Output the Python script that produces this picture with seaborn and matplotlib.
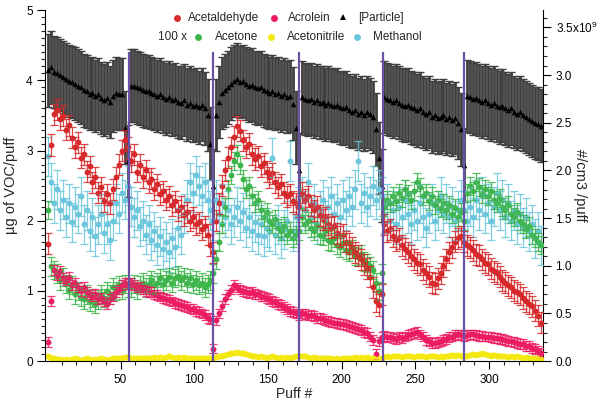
# Puff-by-puff VOC and particle chart
import numpy as np
import pandas as pd
import seaborn as sns
import matplotlib.pyplot as plt
from matplotlib.lines import Line2D

# Datos (cada 2 puffs)
puffs = np.arange(1, 336, 2)
cambios = [56, 113, 171, 228, 283]  # cambios de cigarrillo (lineas moradas)

acetaldehyde = [
    1.67, 3.08, 3.52, 3.58, 3.45, 3.50, 3.30, 3.36, 3.18, 3.05, 3.12, 2.90, 2.95, 2.70,
    2.78, 2.55, 2.62, 2.40, 2.48, 2.28, 2.38, 2.25, 2.45, 2.62, 2.80, 3.00, 3.15, 3.05,
    2.85, 2.95, 2.70, 2.80, 2.62, 2.72, 2.55, 2.60, 2.45, 2.52, 2.38, 2.42, 2.30, 2.35, 2.22,
    2.28, 2.15, 2.20, 2.08, 2.12, 2.00, 2.05, 1.95, 1.98, 1.88, 1.92, 1.80, 1.65, 1.55,
    2.00, 2.25, 2.50, 2.72, 2.90, 3.05, 3.20, 3.35, 3.28, 3.15, 3.05, 3.10, 2.95, 2.88, 2.92,
    2.78, 2.82, 2.70, 2.62, 2.68, 2.55, 2.48, 2.52, 2.40, 2.35, 2.38, 2.28, 2.25, 2.20,
    2.40, 2.30, 2.35, 2.22, 2.15, 2.20, 2.08, 2.02, 2.05, 1.95, 1.90, 1.92, 1.82, 1.78,
    1.80, 1.70, 1.68, 1.62, 1.55, 1.50, 1.45, 1.38, 1.32, 1.20, 1.05, 0.85, 0.80, 0.95,
    1.95, 1.85, 1.88, 1.78, 1.72, 1.75, 1.65, 1.60, 1.55, 1.50, 1.45, 1.40, 1.38, 1.30,
    1.25, 1.20, 1.12, 1.10, 1.18, 1.25, 1.35, 1.45, 1.55, 1.62, 1.70, 1.75, 1.78, 1.70,
    1.65, 1.62, 1.58, 1.52, 1.50, 1.45, 1.40, 1.38, 1.32, 1.28, 1.25, 1.20, 1.15,
    1.12, 1.08, 1.05, 1.00, 0.98, 0.95, 0.90, 0.85, 0.82, 0.78, 0.72, 0.65, 0.55]

acrolein = [
    0.27, 0.86, 1.30, 1.22, 1.28, 1.18, 1.15, 1.20, 1.08, 1.12, 1.05, 1.00, 1.06, 0.98,
    0.95, 0.92, 0.96, 0.88, 0.90, 0.85, 0.82, 0.88, 0.92, 0.98, 1.02, 1.08, 1.12, 1.10,
    1.12, 1.08, 1.05, 1.06, 1.02, 1.00, 0.98, 0.99, 0.95, 0.94, 0.92, 0.90, 0.88, 0.87, 0.85,
    0.83, 0.82, 0.80, 0.78, 0.77, 0.75, 0.74, 0.72, 0.70, 0.68, 0.66, 0.62, 0.60, 0.18,
    0.58, 0.68, 0.78, 0.88, 0.95, 1.02, 1.08, 1.05, 1.02, 1.00, 0.99, 0.97, 0.98, 0.96, 0.95,
    0.93, 0.92, 0.90, 0.88, 0.86, 0.84, 0.82, 0.80, 0.77, 0.74, 0.72, 0.70, 0.68, 0.66,
    0.68, 0.67, 0.65, 0.66, 0.64, 0.62, 0.61, 0.60, 0.58, 0.57, 0.56, 0.55, 0.54, 0.53,
    0.53, 0.52, 0.50, 0.49, 0.47, 0.46, 0.44, 0.42, 0.40, 0.35, 0.30, 0.10, 0.28, 0.34,
    0.36, 0.34, 0.35, 0.33, 0.32, 0.34, 0.33, 0.35, 0.37, 0.39, 0.40, 0.41, 0.38, 0.35,
    0.30, 0.28, 0.26, 0.26, 0.27, 0.28, 0.30, 0.32, 0.34, 0.35, 0.37, 0.38, 0.37, 0.36,
    0.37, 0.38, 0.38, 0.37, 0.36, 0.36, 0.35, 0.35, 0.34, 0.33, 0.33, 0.32, 0.31,
    0.30, 0.29, 0.28, 0.27, 0.26, 0.25, 0.24, 0.22, 0.21, 0.19, 0.17, 0.15, 0.12]

acetone = [
    2.15, 1.35, 1.30, 1.25, 1.15, 1.20, 1.10, 1.02, 1.08, 0.95, 1.00, 0.92, 0.88, 0.95,
    0.85, 0.90, 0.82, 0.88, 0.95, 0.90, 1.00, 0.95, 1.05, 1.00, 1.08, 1.02, 1.10, 1.05,
    1.05, 1.10, 1.02, 1.08, 1.12, 1.05, 1.10, 1.15, 1.08, 1.12, 1.18, 1.10, 1.15, 1.20, 1.12,
    1.18, 1.22, 1.15, 1.20, 1.12, 1.18, 1.10, 1.15, 1.08, 1.12, 1.05, 1.10, 1.15, 1.25,
    1.45, 1.70, 1.95, 2.20, 2.45, 2.65, 2.85, 2.95, 2.80, 2.60, 2.45, 2.50, 2.35, 2.25, 2.30,
    2.15, 2.05, 2.12, 2.00, 1.95, 2.02, 1.90, 1.85, 1.92, 1.80, 1.85, 1.75, 1.80, 1.85,
    2.05, 1.95, 2.00, 1.90, 1.85, 1.92, 1.80, 1.78, 1.85, 1.72, 1.70, 1.75, 1.65, 1.62,
    1.68, 1.58, 1.55, 1.60, 1.50, 1.48, 1.52, 1.42, 1.40, 1.35, 1.30, 1.12, 1.00, 1.25,
    2.20, 2.30, 2.25, 2.35, 2.28, 2.40, 2.32, 2.45, 2.38, 2.30, 2.42, 2.55, 2.48, 2.35,
    2.40, 2.28, 2.35, 2.22, 2.30, 2.18, 2.25, 2.15, 2.22, 2.10, 2.18, 2.05, 2.12, 2.00,
    2.40, 2.50, 2.42, 2.55, 2.48, 2.38, 2.45, 2.35, 2.42, 2.30, 2.25, 2.32, 2.20,
    2.15, 2.22, 2.10, 2.05, 2.12, 2.00, 1.95, 1.88, 1.92, 1.80, 1.75, 1.70, 1.65]

acetonitrile = [
    0.07, 0.05, 0.04, 0.03, 0.03, 0.02, 0.03, 0.02, 0.03, 0.04, 0.03, 0.02, 0.03, 0.04,
    0.03, 0.02, 0.03, 0.03, 0.04, 0.03, 0.02, 0.03, 0.04, 0.04, 0.05, 0.05, 0.06, 0.06,
    0.05, 0.04, 0.05, 0.04, 0.05, 0.05, 0.04, 0.05, 0.06, 0.05, 0.06, 0.05, 0.06, 0.07, 0.06,
    0.05, 0.06, 0.05, 0.06, 0.05, 0.04, 0.05, 0.04, 0.05, 0.04, 0.05, 0.04, 0.04, 0.05,
    0.06, 0.07, 0.08, 0.09, 0.10, 0.11, 0.12, 0.13, 0.12, 0.11, 0.10, 0.09, 0.08, 0.07, 0.06,
    0.07, 0.06, 0.05, 0.06, 0.07, 0.06, 0.05, 0.06, 0.05, 0.06, 0.05, 0.06, 0.07, 0.08,
    0.08, 0.07, 0.06, 0.05, 0.06, 0.05, 0.04, 0.05, 0.04, 0.05, 0.04, 0.03, 0.04, 0.03,
    0.04, 0.05, 0.04, 0.05, 0.06, 0.05, 0.06, 0.05, 0.06, 0.05, 0.04, 0.03, 0.03, 0.05,
    0.06, 0.07, 0.06, 0.07, 0.08, 0.07, 0.06, 0.07, 0.08, 0.07, 0.06, 0.07, 0.08, 0.07,
    0.06, 0.07, 0.08, 0.07, 0.06, 0.07, 0.06, 0.07, 0.08, 0.09, 0.08, 0.09, 0.08, 0.07,
    0.08, 0.09, 0.10, 0.09, 0.10, 0.11, 0.10, 0.09, 0.08, 0.09, 0.08, 0.07, 0.08,
    0.07, 0.06, 0.07, 0.06, 0.07, 0.06, 0.05, 0.06, 0.05, 0.04, 0.05, 0.04, 0.03]

methanol = [
    2.92, 2.55, 2.25, 2.45, 2.15, 2.30, 2.05, 2.25, 1.98, 2.20, 2.10, 2.35, 1.95, 2.15,
    1.85, 2.05, 1.78, 1.95, 2.10, 1.82, 1.95, 1.72, 2.00, 2.25, 2.10, 2.40, 2.30, 2.50,
    2.20, 2.05, 2.15, 1.92, 2.00, 1.80, 1.95, 1.72, 1.85, 1.65, 1.78, 1.60, 1.70, 1.55, 1.75,
    1.62, 1.90, 1.80, 2.10, 2.30, 2.55, 2.40, 2.65, 2.50, 2.35, 2.55, 2.30, 2.15, 2.00,
    2.30, 2.10, 2.25, 2.05, 2.15, 1.95, 2.05, 2.20, 2.00, 2.12, 1.90, 2.05, 1.85, 1.98, 1.80,
    1.95, 1.78, 1.90, 1.85, 2.90, 1.80, 1.95, 1.75, 1.88, 2.00, 2.85, 1.85, 2.05, 2.20,
    2.35, 2.15, 2.55, 2.05, 2.25, 1.95, 2.15, 2.30, 2.00, 2.20, 2.35, 2.10, 2.25, 2.05,
    2.30, 2.15, 2.35, 2.20, 2.45, 2.85, 2.25, 2.40, 2.20, 2.35, 2.50, 2.30, 2.45, 2.35,
    2.10, 2.25, 2.00, 2.15, 1.95, 2.20, 2.05, 2.30, 2.10, 1.95, 2.15, 2.00, 2.25, 2.05,
    1.90, 2.10, 2.25, 2.00, 2.15, 2.35, 2.10, 2.25, 2.05, 2.20, 2.00, 2.15, 2.30, 2.15,
    2.00, 2.20, 2.05, 2.30, 2.15, 2.35, 2.10, 2.25, 2.00, 2.20, 2.40, 2.15, 2.30,
    2.05, 2.25, 2.00, 2.15, 1.95, 2.10, 1.90, 2.05, 1.85, 1.95, 1.75, 1.85, 1.65]

# [Particle] en unidades de 1e9 #/cm3
particle = [
    3.05, 3.08, 3.03, 3.02, 3.00, 2.98, 2.96, 2.94, 2.93, 2.91, 2.89, 2.87, 2.84, 2.83,
    2.80, 2.81, 2.78, 2.80, 2.76, 2.74, 2.76, 2.72, 2.78, 2.81, 2.80, 2.80, 2.45, 2.10,
    2.89, 2.89, 2.87, 2.86, 2.84, 2.83, 2.83, 2.81, 2.80, 2.78, 2.80, 2.77, 2.75, 2.77, 2.74,
    2.75, 2.72, 2.71, 2.74, 2.69, 2.71, 2.68, 2.69, 2.66, 2.69, 2.65, 2.58, 2.28, 1.84,
    2.58, 2.72, 2.81, 2.84, 2.87, 2.91, 2.94, 2.96, 2.93, 2.94, 2.91, 2.89, 2.90, 2.87, 2.86,
    2.87, 2.84, 2.83, 2.81, 2.83, 2.80, 2.81, 2.78, 2.80, 2.77, 2.78, 2.70, 2.45, 2.00,
    2.77, 2.75, 2.74, 2.75, 2.72, 2.74, 2.71, 2.72, 2.69, 2.71, 2.69, 2.68, 2.69, 2.66,
    2.65, 2.66, 2.63, 2.61, 2.63, 2.59, 2.61, 2.58, 2.61, 2.59, 2.56, 2.43, 2.13, 1.84,
    2.77, 2.75, 2.74, 2.72, 2.74, 2.71, 2.69, 2.68, 2.69, 2.66, 2.65, 2.63, 2.65, 2.61,
    2.59, 2.61, 2.56, 2.58, 2.55, 2.56, 2.58, 2.54, 2.56, 2.53, 2.55, 2.50, 2.43, 2.06,
    2.78, 2.77, 2.75, 2.76, 2.74, 2.72, 2.74, 2.71, 2.69, 2.71, 2.68, 2.66, 2.68,
    2.65, 2.63, 2.65, 2.61, 2.59, 2.61, 2.58, 2.56, 2.54, 2.52, 2.50, 2.49, 2.47]

# Incertidumbre tipica de cada serie
err_acetaldehyde = 0.15
err_acrolein = 0.07
err_acetone = 0.13
err_acetonitrile = 0.02
err_methanol = 0.28
err_particle = 0.38

df = pd.DataFrame({'puff': puffs, 'Acetaldehyde': acetaldehyde, 'Acrolein': acrolein,
                   'Acetone': acetone, 'Acetonitrile': acetonitrile, 'Methanol': methanol,
                   'Particle': particle})

colores = {'Acetaldehyde': '#d7282b', 'Acrolein': '#ec1c64', 'Acetone': '#3db54a',
           'Acetonitrile': '#f4e812', 'Methanol': '#6cc6dc'}
errores = {'Acetaldehyde': err_acetaldehyde, 'Acrolein': err_acrolein, 'Acetone': err_acetone,
           'Acetonitrile': err_acetonitrile, 'Methanol': err_methanol}

sns.set_theme(style='ticks')
plt.rcParams['font.family'] = ['Liberation Sans', 'DejaVu Sans']
plt.rcParams['mathtext.default'] = 'regular'

fig = plt.figure(figsize=(6.02, 4.09), dpi=100)
ax = fig.add_axes([0.075, 0.117, 0.827, 0.858])
ax2 = ax.twinx()

# Particulas (eje derecho), por detras
ax2.errorbar(df['puff'], df['Particle'], yerr=err_particle, fmt='none', ecolor='#404040',
             elinewidth=2.0, capsize=3, capthick=1.0)
sns.scatterplot(data=df, x='puff', y='Particle', marker='^', color='black', s=16,
                linewidth=0, ax=ax2, legend=False, zorder=3)
ax2.set_xlabel('')
ax2.set_ylabel('')

# VOCs (eje izquierdo)
for serie in ['Methanol', 'Acetone', 'Acetaldehyde', 'Acrolein', 'Acetonitrile']:
    ax.errorbar(df['puff'], df[serie], yerr=errores[serie], fmt='none', ecolor=colores[serie],
                elinewidth=0.9, capsize=3, capthick=0.9, alpha=0.85)
    sns.scatterplot(data=df, x='puff', y=serie, color=colores[serie], s=18, linewidth=0,
                    ax=ax, legend=False)

ax.vlines(cambios, 0, 4.4, color='#6a52a8', linewidth=1.6, zorder=10)

ax.set_zorder(ax2.get_zorder() + 1)
ax.patch.set_visible(False)

ax.set_xlim(-1.1, 336.5)
ax.set_ylim(0, 5)
ax2.set_ylim(0, 3.68)

ax.set_xticks([50, 100, 150, 200, 250, 300])
ax.set_xticks(np.arange(10, 336, 10), minor=True)
ax.set_yticks(np.arange(0, 6, 1))
ax.set_yticks(np.arange(0, 5.01, 0.1), minor=True)
ax2.set_yticks(np.arange(0, 3.6, 0.5))
ax2.set_yticks(np.arange(0, 3.65, 0.1), minor=True)
ax2.set_yticklabels(['0.0', '0.5', '1.0', '1.5', '2.0', '2.5', '3.0', '3.5x10$^{9}$'])

for a in [ax, ax2]:
    a.tick_params(which='major', direction='out', length=6, width=0.8, labelsize=8.5,
                  colors='black', pad=3)
    a.tick_params(which='minor', direction='out', length=3, width=0.8)
    a.spines['top'].set_visible(False)
    for s in a.spines.values():
        s.set_linewidth(0.8)
        s.set_color('black')
ax.spines['right'].set_visible(False)
ax2.spines['left'].set_visible(False)
ax2.spines['bottom'].set_visible(False)

ax.set_xlabel('Puff #', fontsize=10, labelpad=1)
ax.set_ylabel('µg of VOC/puff', fontsize=10.5, labelpad=6)
fig.text(580 / 602, 1 - 185 / 409, '#/cm3 /puff', fontsize=10.5, rotation=270,
         ha='center', va='center')

# Leyenda manual en dos filas
def marca(x, y, color, m='o'):
    fig.add_artist(Line2D([x / 602], [1 - y / 409], marker=m, color=color, markersize=5,
                          linestyle='none', markeredgewidth=0))

def texto(x, y, s):
    fig.text(x / 602, 1 - y / 409, s, fontsize=8.5, va='center', ha='left')

marca(177, 18, colores['Acetaldehyde'])
texto(188, 18, 'Acetaldehyde')
marca(274, 18, colores['Acrolein'])
texto(288, 18, 'Acrolein')
marca(343, 17, 'black', '^')
texto(358, 18, '[Particle]')
texto(158, 36.5, '100 x')
marca(198, 36.5, colores['Acetone'])
texto(215, 36.5, 'Acetone')
marca(271, 36.5, colores['Acetonitrile'])
texto(287, 36.5, 'Acetonitrile')
marca(357, 36.5, colores['Methanol'])
texto(373, 36.5, 'Methanol')

fig.savefig('out.png', dpi=100)
